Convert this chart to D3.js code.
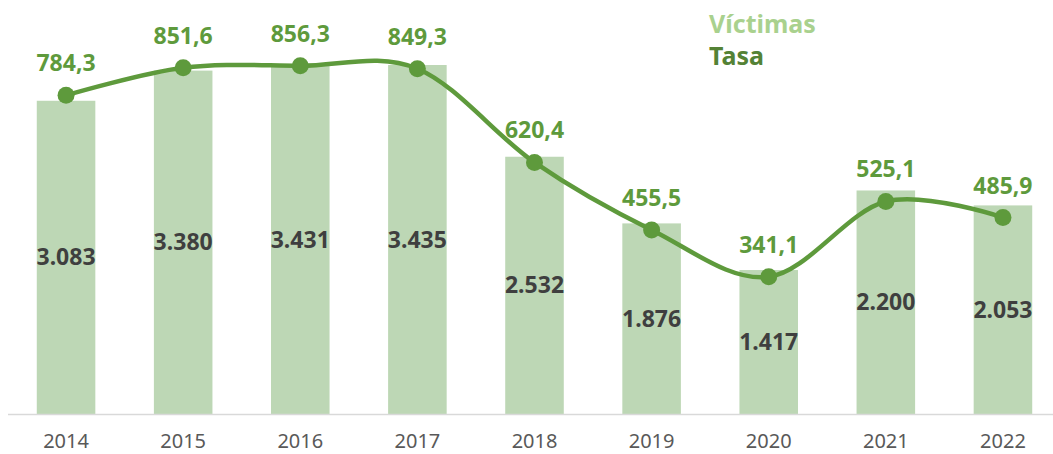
<!DOCTYPE html>
<html>
<head>
<meta charset="utf-8">
<script src="https://cdn.jsdelivr.net/npm/d3@7"></script>
<style>
  body { margin: 0; background: #fff; }
  svg { display: block; font-family: "Noto Sans", "Open Sans", sans-serif; }
</style>
</head>
<body>
<div id="chart"></div>
<script>
var years = ["2014", "2015", "2016", "2017", "2018", "2019", "2020", "2021", "2022"];
var victimas = [3083, 3380, 3431, 3435, 2532, 1876, 1417, 2200, 2053];
var tasa = [784.3, 851.6, 856.3, 849.3, 620.4, 455.5, 341.1, 525.1, 485.9];

var width = 1053, height = 454;

var svg = d3.select("#chart")
    .append("svg")
    .attr("width", width)
    .attr("height", height);

var data = years.map(function(y, i) { return {year: y, v: victimas[i], t: tasa[i]}; });

// x axis
var x = d3.scaleBand()
    .domain(years)
    .range([7.5, 1061.5])
    .paddingInner(0.5)
    .paddingOuter(0.25);

// bars on the left scale, rate on the right one
var yBar = d3.scaleLinear().domain([0, 4000]).range([414, 7.6]);
var yLine = d3.scaleLinear().domain([0, 1000]).range([416.5, 7]);

var fmtV = function(d) { return d3.format(",")(d).replace(",", "."); };
var fmtT = function(d) { return d3.format(".1f")(d).replace(".", ","); };

// bars
svg.selectAll(".bar")
    .data(data)
    .enter()
    .append("rect")
    .attr("x", function(d) { return x(d.year); })
    .attr("y", function(d) { return yBar(d.v); })
    .attr("width", x.bandwidth())
    .attr("height", function(d) { return yBar(0) - yBar(d.v); })
    .attr("fill", "#bdd7b5");

// bar labels
svg.selectAll(".vlab")
    .data(data)
    .enter()
    .append("text")
    .attr("x", function(d) { return x(d.year) + x.bandwidth() / 2; })
    .attr("y", function(d) { return (yBar(d.v) + yBar(0)) / 2; })
    .attr("dy", "0.35em")
    .attr("text-anchor", "middle")
    .attr("font-size", 23)
    .attr("font-weight", "bold")
    .attr("fill", "#3f3f3f")
    .text(function(d) { return fmtV(d.v); });

// axis
var xAxis = svg.append("g")
    .attr("transform", "translate(0,414.5)")
    .call(d3.axisBottom(x).tickSize(0).tickPadding(19));
xAxis.select(".domain").attr("d", "M8,0H1053").attr("stroke", "#d9d9d9").attr("stroke-width", 1.5);
xAxis.selectAll("text")
    .attr("font-size", 20)
    .attr("font-family", "\"Noto Sans\", sans-serif")
    .attr("fill", "#595959");

// line
var line = d3.line()
    .x(function(d) { return x(d.year) + x.bandwidth() / 2; })
    .y(function(d) { return yLine(d.t); })
    .curve(d3.curveCardinal.tension(0));

svg.append("path")
    .datum(data)
    .attr("d", line)
    .attr("fill", "none")
    .attr("stroke", "#5e9a3c")
    .attr("stroke-width", 4.5);

svg.selectAll(".dot")
    .data(data)
    .enter()
    .append("circle")
    .attr("cx", function(d) { return x(d.year) + x.bandwidth() / 2; })
    .attr("cy", function(d) { return yLine(d.t); })
    .attr("r", 8.5)
    .attr("fill", "#5e9a3c");

svg.selectAll(".tlab")
    .data(data)
    .enter()
    .append("text")
    .attr("x", function(d) { return x(d.year) + x.bandwidth() / 2; })
    .attr("y", function(d) { return yLine(d.t) - 24; })
    .attr("text-anchor", "middle")
    .attr("font-size", 23)
    .attr("font-weight", "bold")
    .attr("fill", "#5e9a3c")
    .text(function(d) { return fmtT(d.t); });

// legend
svg.append("text")
    .attr("x", 709).attr("y", 33)
    .attr("font-size", 25).attr("font-weight", "bold")
    .attr("fill", "#a9d18e")
    .text("Víctimas");
svg.append("text")
    .attr("x", 709).attr("y", 65)
    .attr("font-size", 25).attr("font-weight", "bold")
    .attr("fill", "#548235")
    .text("Tasa");
</script>
</body>
</html>
